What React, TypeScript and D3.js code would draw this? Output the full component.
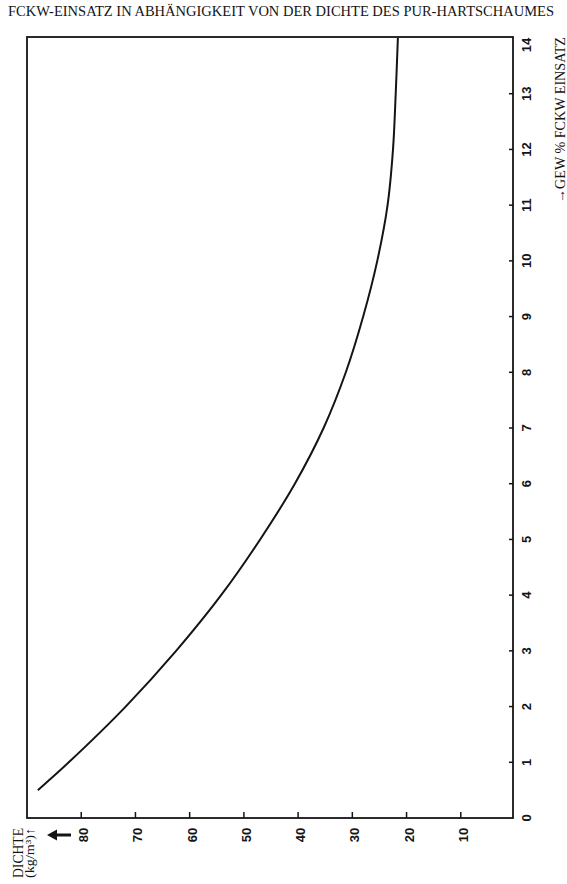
import React from "react";
import * as d3 from "d3";

// Data
const gewPct = [0.5, 1, 2, 3, 4, 5, 6, 7, 8, 9, 10, 11, 12, 13, 14];
const dichte = [88, 82.3, 71.8, 62.5, 54.2, 47.0, 40.6, 35.3, 31.2, 28.0, 25.4, 23.5, 22.5, 22.0, 21.6];
const gewTicks = [0, 1, 2, 3, 4, 5, 6, 7, 8, 9, 10, 11, 12, 13, 14];
const dichteTicks = [10, 20, 30, 40, 50, 60, 70, 80];

const title = "FCKW-EINSATZ IN ABHÄNGIGKEIT VON DER DICHTE DES PUR-HARTSCHAUMES";
const gewTitle = "→GEW % FCKW EINSATZ";

const W = 567;
const H = 884;
const ink = "#141414";

export default function App() {
  const gew = d3.scaleLinear().domain([0, 14]).range([818, 38]);
  const dens = d3.scaleLinear().domain([0, 90]).range([515, 27]);

  const left = dens(90);
  const right = 513;
  const top = gew(14) - 1;
  const bottom = gew(0);

  const pts = gewPct.map((g, i) => [g, dichte[i]] as [number, number]);
  const line = d3
    .line<[number, number]>()
    .x((d) => dens(d[1]))
    .y((d) => gew(d[0]))
    .curve(d3.curveCatmullRom.alpha(0.5));

  const serif = "'Liberation Serif', 'DejaVu Serif', serif";
  const sans = "'Liberation Sans', Arial, sans-serif";

  return (
    <svg
      width={W}
      height={H}
      style={{ position: "absolute", left: 0, top: 0, background: "#fff" }}
    >
      <text
        x={8}
        y={16}
        fontFamily={serif}
        fontSize={14.5}
        fill={ink}
        textLength={546}
        lengthAdjust="spacingAndGlyphs"
      >
        {title}
      </text>

      {/* frame */}
      <rect
        x={left}
        y={top}
        width={right - left}
        height={bottom - top}
        fill="none"
        stroke={ink}
        strokeWidth={1.8}
      />

      {/* right axis ticks (GEW %) */}
      {gewTicks.slice(1, -1).map((t) => (
        <line
          key={"gt" + t}
          x1={right}
          x2={right - 4}
          y1={gew(t)}
          y2={gew(t)}
          stroke={ink}
          strokeWidth={1.5}
        />
      ))}
      {gewTicks.map((t) => (
        <text
          key={"gl" + t}
          transform={`translate(531,${gew(t) + (t === 14 ? 7 : 0)}) rotate(-90)`}
          textAnchor="middle"
          fontFamily={sans}
          fontWeight="bold"
          fontSize={13}
          fill={ink}
        >
          {t}
        </text>
      ))}
      <text
        transform={`translate(565,120) rotate(-90)`}
        textAnchor="middle"
        fontFamily={serif}
        fontSize={14}
        fill={ink}
        textLength={166}
        lengthAdjust="spacingAndGlyphs"
      >
        {gewTitle}
      </text>

      {/* bottom axis ticks (Dichte) */}
      {dichteTicks.map((t) => (
        <line
          key={"dt" + t}
          x1={dens(t)}
          x2={dens(t)}
          y1={bottom}
          y2={bottom - 6}
          stroke={ink}
          strokeWidth={1.5}
        />
      ))}
      {dichteTicks.map((t) => (
        <text
          key={"dl" + t}
          transform={`translate(${dens(t) + 7},835) rotate(-90)`}
          textAnchor="middle"
          fontFamily={sans}
          fontWeight="bold"
          fontSize={13}
          fill={ink}
        >
          {t}
        </text>
      ))}

      {/* arrow pointing to higher density */}
      <line x1={71} x2={54} y1={835} y2={835} stroke={ink} strokeWidth={3} />
      <path d="M47,835 L57,829.5 L57,840.5 Z" fill={ink} />

      <text
        transform={`translate(22.5,853) rotate(-90)`}
        textAnchor="middle"
        fontFamily={serif}
        fontSize={14}
        fill={ink}
        textLength={50}
        lengthAdjust="spacingAndGlyphs"
      >
        DICHTE
      </text>
      <text
        transform={`translate(34,853) rotate(-90)`}
        textAnchor="middle"
        fontFamily={serif}
        fontSize={13}
        fill={ink}
        textLength={50}
        lengthAdjust="spacingAndGlyphs"
      >
        (kg/m³)↑
      </text>

      {/* curve */}
      <path d={line(pts) || ""} fill="none" stroke={ink} strokeWidth={2} />
    </svg>
  );
}
